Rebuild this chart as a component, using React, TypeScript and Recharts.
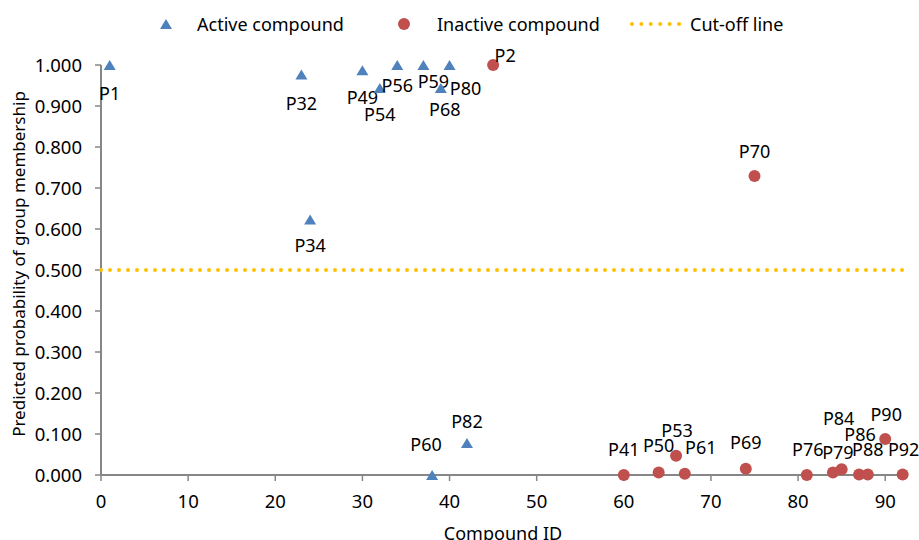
import React from 'react';
import { ScatterChart, Scatter, XAxis, YAxis, Legend, Label } from 'recharts';

// Active compounds (blue triangles)
const activeIds = [1, 23, 24, 30, 32, 34, 37, 38, 39, 40, 42];
const activeNames = ['P1', 'P32', 'P34', 'P49', 'P54', 'P56', 'P59', 'P60', 'P68', 'P80', 'P82'];
const activeProb = [1.0, 0.977, 0.623, 0.987, 0.944, 1.0, 1.0, 0.0, 0.944, 1.0, 0.078];

// Inactive compounds (red circles)
const inactiveIds = [45, 60, 64, 66, 67, 74, 75, 81, 84, 85, 87, 88, 90, 92];
const inactiveNames = ['P2', 'P41', 'P50', 'P53', 'P61', 'P69', 'P70', 'P76', 'P79', 'P84', 'P86', 'P88', 'P90', 'P92'];
const inactiveProb = [1.0, 0.0, 0.006, 0.047, 0.003, 0.015, 0.729, 0.0, 0.006, 0.014, 0.001, 0.001, 0.088, 0.001];

// Cut-off line
const cutoffIds = [0, 92];
const cutoffValue = 0.5;

const xTicks = [0, 10, 20, 30, 40, 50, 60, 70, 80, 90];
const yTicks = [0, 0.1, 0.2, 0.3, 0.4, 0.5, 0.6, 0.7, 0.8, 0.9, 1.0];

const activeData = activeIds.map((x, i) => ({ x, y: activeProb[i], name: activeNames[i] }));
const inactiveData = inactiveIds.map((x, i) => ({ x, y: inactiveProb[i], name: inactiveNames[i] }));
const cutoffData = cutoffIds.map((x) => ({ x, y: cutoffValue }));

// label placement (offset of label centre from marker centre)
const labelOffsets: Record<string, [number, number]> = {
  P1: [0, 28], P32: [0, 29], P34: [0, 26], P49: [0, 27], P54: [0, 27], P56: [0, 20],
  P59: [10, 16], P60: [-6, -31], P68: [4, 22], P80: [16, 23], P82: [0, -22],
  P2: [12, -10], P41: [0, -26], P50: [0, -27], P53: [1, -25], P61: [16, -26], P69: [0, -26],
  P70: [0, -25], P76: [1, -26], P79: [5, -20], P84: [-3, -51], P86: [1, -40], P88: [0, -25],
  P90: [1, -24], P92: [1, -25],
};

const FONT = '"Noto Sans", sans-serif';
const BLUE = '#4F81BD';
const RED = '#C0504D';
const GOLD = '#FFC000';
const AXIS = '#868686';

const PointLabel = ({ cx, cy, name }: { cx: number; cy: number; name: string }) => {
  const [dx, dy] = labelOffsets[name] ?? [0, -20];
  return (
    <text x={cx + dx} y={cy + dy + 6.5} textAnchor="middle" fontFamily={FONT} fontSize={18} fill="#000">
      {name}
    </text>
  );
};

const TriangleShape = (props: any) => {
  const { cx, cy, payload } = props;
  if (cx == null || cy == null) return <g />;
  return (
    <g>
      <polygon points={`${cx},${cy - 5} ${cx - 6},${cy + 5} ${cx + 6},${cy + 5}`} fill={BLUE} />
      <PointLabel cx={cx} cy={cy} name={payload.name} />
    </g>
  );
};

const CircleShape = (props: any) => {
  const { cx, cy, payload } = props;
  if (cx == null || cy == null) return <g />;
  return (
    <g>
      <circle cx={cx} cy={cy} r={6} fill={RED} />
      <PointLabel cx={cx} cy={cy} name={payload.name} />
    </g>
  );
};

const NoShape = () => <g />;

const LegendContent = () => {
  const textStyle: React.CSSProperties = {
    position: 'absolute',
    top: 0,
    lineHeight: '24px',
    fontFamily: FONT,
    fontSize: 18,
    color: '#000',
    whiteSpace: 'nowrap',
  };
  return (
    <div style={{ position: 'relative', width: 919, height: 24 }}>
      <svg style={{ position: 'absolute', left: 0, top: 0 }} width={919} height={24}>
        <polygon points="166,7 160,17 172,17" fill={BLUE} />
        <circle cx={404} cy={12} r={6} fill={RED} />
        <line x1={632} y1={12} x2={679} y2={12} stroke={GOLD} strokeWidth={4} strokeDasharray="0 9.4" strokeLinecap="round" />
      </svg>
      <span style={{ ...textStyle, left: 197 }}>Active compound</span>
      <span style={{ ...textStyle, left: 437 }}>Inactive compound</span>
      <span style={{ ...textStyle, left: 690 }}>Cut-off line</span>
    </div>
  );
};

export default function App() {
  return (
    <div style={{ position: 'absolute', left: 0, top: 0, width: 919, height: 540, background: '#fff' }}>
      <ScatterChart width={919} height={540} margin={{ top: 65, right: 12, bottom: 0, left: 0 }}>
        <XAxis
          type="number"
          dataKey="x"
          domain={[0, 92.5]}
          ticks={xTicks}
          height={65}
          stroke={AXIS}
          strokeWidth={2}
          tickSize={6}
          tickMargin={14}
          tick={{ fill: '#000', fontFamily: FONT, fontSize: 18.5 }}
          tickLine={{ stroke: AXIS, strokeWidth: 1.5 }}
        >
          <Label
            content={() => (
              <text x={503} y={540} textAnchor="middle" fontFamily={FONT} fontSize={18} fill="#000">
                Compound ID
              </text>
            )}
          />
        </XAxis>
        <YAxis
          type="number"
          dataKey="y"
          domain={[0, 1]}
          ticks={yTicks}
          width={101}
          stroke={AXIS}
          strokeWidth={2}
          tickSize={6}
          tickMargin={13}
          tickFormatter={(v: number) => v.toFixed(3)}
          tick={{ fill: '#000', fontFamily: FONT, fontSize: 18.5 }}
          tickLine={{ stroke: AXIS, strokeWidth: 1.5 }}
        >
          <Label
            content={() => (
              <text
                x={0}
                y={0}
                transform="translate(25,264) rotate(-90)"
                textAnchor="middle"
                fontFamily={FONT}
                fontSize={17}
                fill="#000"
              >
                Predicted probability of group membership
              </text>
            )}
          />
        </YAxis>
        <Legend
          layout="horizontal"
          verticalAlign="middle"
          align="center"
          wrapperStyle={{ top: 12, left: 0, width: 919, height: 24 }}
          content={<LegendContent />}
        />
        <Scatter
          name="Cut-off line"
          data={cutoffData}
          fill={GOLD}
          line={{ stroke: GOLD, strokeWidth: 4, strokeDasharray: '0 9', strokeLinecap: 'round' }}
          shape={<NoShape />}
          isAnimationActive={false}
        />
        <Scatter name="Active compound" data={activeData} fill={BLUE} shape={<TriangleShape />} isAnimationActive={false} />
        <Scatter name="Inactive compound" data={inactiveData} fill={RED} shape={<CircleShape />} isAnimationActive={false} />
      </ScatterChart>
    </div>
  );
}
